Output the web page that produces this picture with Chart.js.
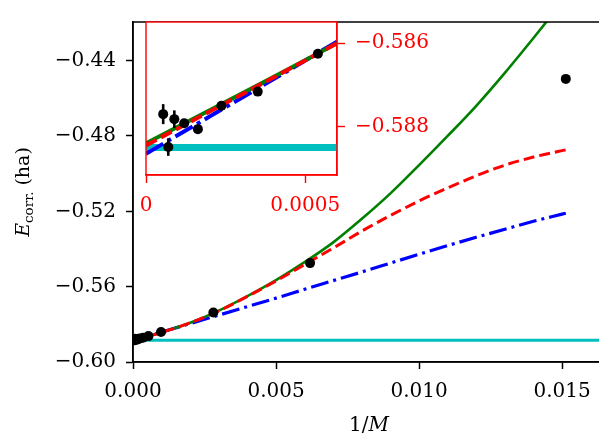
<!DOCTYPE html>
<html>
<head>
<meta charset="utf-8">
<script src="https://cdn.jsdelivr.net/npm/chart.js@4.4.0/dist/chart.umd.min.js"></script>
<style>
  html, body { margin: 0; padding: 0; background: #fff; overflow: hidden; }
  #wrap { position: relative; width: 599px; height: 435px; overflow: hidden; }
  #mainChart { position: absolute; left: 0; top: 0; }
  #insetChart { position: absolute; left: 100px; top: 0; }
</style>
</head>
<body>
<div id="wrap">
  <canvas id="mainChart" width="620" height="435"></canvas>
  <canvas id="insetChart" width="360" height="230"></canvas>
</div>
<script>
// fit curves on a common 1/M grid
const fitX = [0, 0.0006, 0.001, 0.002, 0.003, 0.004, 0.005, 0.006, 0.007, 0.008, 0.009, 0.010, 0.011, 0.012, 0.013, 0.014, 0.015, 0.01513];
const greenFit = [-0.5884, -0.5860, -0.5843, -0.5792, -0.5727, -0.5650, -0.5565, -0.5470, -0.5365, -0.5240, -0.5105, -0.4955, -0.4800, -0.4640, -0.4465, -0.4280, -0.4090, -0.4065];
const redFit = [-0.58845, -0.5860, -0.5843, -0.5792, -0.5729, -0.5652, -0.5570, -0.5483, -0.5395, -0.5305, -0.5222, -0.5145, -0.5076, -0.5011, -0.4955, -0.4912, -0.4878, -0.4874];
const blueFit = [-0.58865, -0.58596, -0.5841, -0.5796, -0.5751, -0.5706, -0.5661, -0.5614, -0.5568, -0.5522, -0.5475, -0.5428, -0.5382, -0.5338, -0.5295, -0.5253, -0.5215, -0.5210];

// infinite mass limit (cyan line)
const eInf = -0.5885;

// computed energies with error bars
const dataX = [0.000054, 0.000070, 0.000089, 0.000120, 0.000163, 0.000237, 0.000351, 0.000540, 0.00098, 0.00281, 0.00619, 0.01513];
const dataY = [-0.58770, -0.58849, -0.58782, -0.58792, -0.58806, -0.58750, -0.58716, -0.58625, -0.5841, -0.5737, -0.5475, -0.4497];
const dataErr = [0.00024, 0.00021, 0.00021, 0.00010, 0.00006, 0.00004, 0.00003, 0.00002, 0.0001, 0.0001, 0.0001, 0.0002];

const mainXTicks = [0, 0.005, 0.010, 0.015];
const mainYTicks = [-0.60, -0.56, -0.52, -0.48, -0.44];
const insetXTicks = [0, 0.0005];
const insetYTicks = [-0.588, -0.586];

const mainXMax = 0.0165;
const FONT = 'DejaVu Serif';

const pts = (xs, ys) => xs.map((x, i) => ({ x: x, y: ys[i] }));
const minus = s => s.replace('-', '\u2212');

function makeDatasets(big) {
  return [
    { data: pts(dataX, dataY), pointRadius: 5, pointBackgroundColor: 'black', pointBorderWidth: 0, showLine: false, order: 0 },
    { data: pts(fitX, redFit), borderColor: '#ff0000', borderWidth: big ? 4 : 3, borderDash: big ? [12, 5] : [11, 5],
      showLine: true, pointRadius: 0, cubicInterpolationMode: 'monotone', order: 1 },
    { data: pts(fitX, greenFit), borderColor: '#008000', borderWidth: big ? 4 : 2.6,
      showLine: true, pointRadius: 0, cubicInterpolationMode: 'monotone', order: 2 },
    { data: pts(fitX, blueFit), borderColor: '#0000ff', borderWidth: big ? 4 : 3.2, borderDash: big ? [20, 5, 4, 5] : [18, 5, 3, 5],
      showLine: true, pointRadius: 0, cubicInterpolationMode: 'monotone', order: 3 },
    { data: [{ x: 0, y: eInf }, { x: mainXMax, y: eInf }], borderColor: '#00bfbf', borderWidth: big ? 7 : 3,
      showLine: true, pointRadius: 0, order: 4 }
  ];
}

// error bars, white background, frame and axis titles
const extras = {
  id: 'extras',
  beforeDraw(chart, args, opts) {
    if (!opts.white) return;
    const a = chart.chartArea, ctx = chart.ctx;
    ctx.save();
    ctx.fillStyle = 'white';
    ctx.fillRect(a.left, a.top, a.right - a.left, a.bottom - a.top);
    ctx.restore();
  },
  afterDatasetsDraw(chart, args, opts) {
    const a = chart.chartArea, ctx = chart.ctx;
    const xs = chart.scales.x, ys = chart.scales.y;
    ctx.save();
    ctx.beginPath();
    ctx.rect(a.left, a.top, a.right - a.left, a.bottom - a.top);
    ctx.clip();
    ctx.strokeStyle = 'black';
    ctx.lineWidth = opts.errWidth;
    dataX.forEach((x, i) => {
      const px = xs.getPixelForValue(x);
      ctx.beginPath();
      ctx.moveTo(px, ys.getPixelForValue(dataY[i] - dataErr[i]));
      ctx.lineTo(px, ys.getPixelForValue(dataY[i] + dataErr[i]));
      ctx.stroke();
    });
    ctx.restore();
  },
  afterDraw(chart, args, opts) {
    const a = chart.chartArea, ctx = chart.ctx;
    ctx.save();
    ctx.strokeStyle = opts.frame;
    ctx.lineWidth = opts.frameWidth;
    ctx.strokeRect(a.left, a.top, a.right - a.left, a.bottom - a.top);
    if (opts.titles) {
      // x label: 1/M
      ctx.fillStyle = 'black';
      ctx.textBaseline = 'alphabetic';
      ctx.font = '20px "' + FONT + '"';
      const w1 = ctx.measureText('1/').width;
      ctx.font = 'italic 20px "' + FONT + '"';
      const w2 = ctx.measureText('M').width;
      const x0 = (a.left + a.right) / 2 - (w1 + w2) / 2;
      ctx.font = '20px "' + FONT + '"';
      ctx.fillText('1/', x0, 431);
      ctx.font = 'italic 20px "' + FONT + '"';
      ctx.fillText('M', x0 + w1, 431);

      // y label: E_corr. (ha)
      ctx.translate(29, (a.top + a.bottom) / 2);
      ctx.rotate(-Math.PI / 2);
      ctx.font = 'italic 19px "' + FONT + '"';
      const wE = ctx.measureText('E').width;
      ctx.font = '13.5px "' + FONT + '"';
      const wS = ctx.measureText('corr.').width;
      ctx.font = '19px "' + FONT + '"';
      const wH = ctx.measureText(' (ha)').width;
      const s = -(wE + wS + wH) / 2;
      ctx.font = 'italic 19px "' + FONT + '"';
      ctx.fillText('E', s, 0);
      ctx.font = '13.5px "' + FONT + '"';
      ctx.fillText('corr.', s + wE, 4);
      ctx.font = '19px "' + FONT + '"';
      ctx.fillText(' (ha)', s + wE + wS, 0);
    }
    ctx.restore();
  }
};

new Chart(document.getElementById('mainChart'), {
  type: 'scatter',
  data: { datasets: makeDatasets(false) },
  plugins: [extras],
  options: {
    responsive: false,
    animation: false,
    layout: { padding: { left: 0, right: 15, top: 7, bottom: 0 } },
    plugins: {
      legend: { display: false },
      tooltip: { enabled: false },
      extras: { errWidth: 1.5, frame: 'black', frameWidth: 1.5, titles: true, white: false }
    },
    scales: {
      x: {
        type: 'linear', min: 0, max: mainXMax,
        afterFit: s => { s.height = 73; },
        afterBuildTicks: s => { s.ticks = mainXTicks.map(v => ({ value: v })); },
        ticks: { color: 'black', font: { family: FONT, size: 20 }, padding: 11, maxRotation: 0, autoSkip: false,
                 callback: v => v.toFixed(3) },
        grid: { drawOnChartArea: false, drawTicks: true, tickLength: 7, tickWidth: 1.5, tickColor: 'black' },
        border: { display: true, color: 'black', width: 1.5 }
      },
      y: {
        type: 'linear', min: -0.60, max: -0.4195,
        afterFit: s => { s.width = 133; },
        afterBuildTicks: s => { s.ticks = mainYTicks.map(v => ({ value: v })); },
        ticks: { color: 'black', font: { family: FONT, size: 20 }, padding: 10, autoSkip: false,
                 callback: v => minus(v.toFixed(2)) },
        grid: { drawOnChartArea: false, drawTicks: true, tickLength: 7, tickWidth: 1.5, tickColor: 'black' },
        border: { display: true, color: 'black', width: 1.5 }
      }
    }
  }
});

new Chart(document.getElementById('insetChart'), {
  type: 'scatter',
  data: { datasets: makeDatasets(true) },
  plugins: [extras],
  options: {
    responsive: false,
    animation: false,
    layout: { padding: { left: 46, right: 0, top: 20, bottom: 0 } },
    plugins: {
      legend: { display: false },
      tooltip: { enabled: false },
      extras: { errWidth: 2.6, frame: '#ff0000', frameWidth: 1.4, titles: false, white: true }
    },
    scales: {
      x: {
        type: 'linear', min: 0, max: 0.0006,
        afterFit: s => { s.height = 55; },
        afterBuildTicks: s => { s.ticks = insetXTicks.map(v => ({ value: v })); },
        ticks: { color: '#ff0000', font: { family: FONT, size: 20 }, padding: 11, maxRotation: 0, autoSkip: false,
                 callback: v => (v === 0 ? '0' : v.toFixed(4)) },
        grid: { drawOnChartArea: false, drawTicks: true, tickLength: 8, tickWidth: 1.4, tickColor: '#ff0000' },
        border: { display: true, color: '#ff0000', width: 1.4 }
      },
      y: {
        type: 'linear', position: 'right', min: -0.58916, max: -0.58549,
        afterFit: s => { s.width = 123; },
        afterBuildTicks: s => { s.ticks = insetYTicks.map(v => ({ value: v })); },
        ticks: { color: '#ff0000', font: { family: FONT, size: 20 }, padding: 10, autoSkip: false,
                 callback: v => minus(v.toFixed(3)) },
        grid: { drawOnChartArea: false, drawTicks: true, tickLength: 8, tickWidth: 1.4, tickColor: '#ff0000' },
        border: { display: true, color: '#ff0000', width: 1.4 }
      }
    }
  }
});
</script>
</body>
</html>
